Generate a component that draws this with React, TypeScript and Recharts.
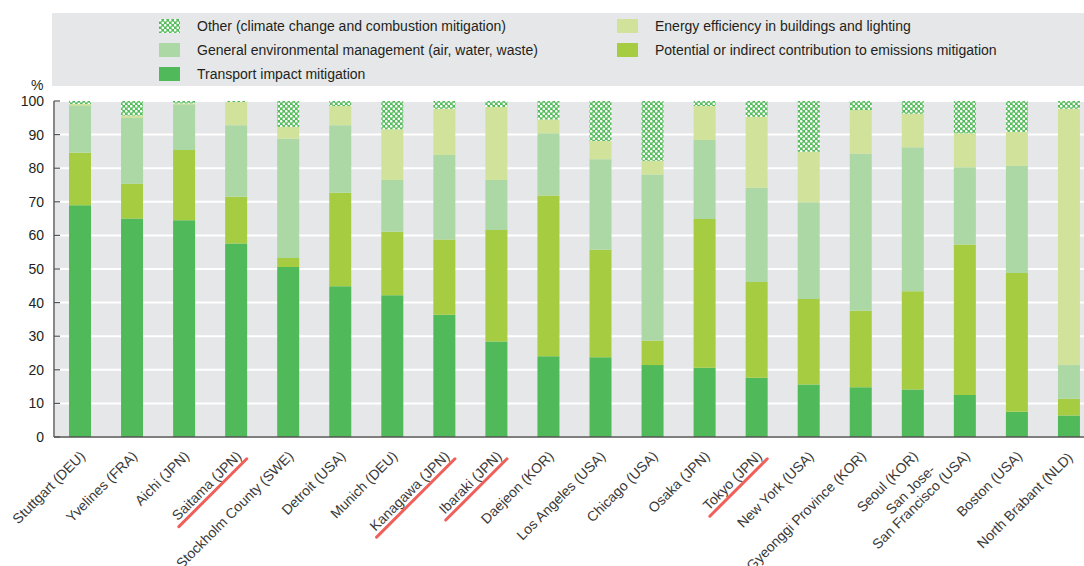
import React from "react";
import { BarChart, Bar, XAxis, YAxis, CartesianGrid } from "recharts";

const categories = [
  "Stuttgart (DEU)",
  "Yvelines (FRA)",
  "Aichi (JPN)",
  "Saitama (JPN)",
  "Stockholm County (SWE)",
  "Detroit (USA)",
  "Munich (DEU)",
  "Kanagawa (JPN)",
  "Ibaraki (JPN)",
  "Daejeon (KOR)",
  "Los Angeles (USA)",
  "Chicago (USA)",
  "Osaka (JPN)",
  "Tokyo (JPN)",
  "New York (USA)",
  "Gyeonggi Province (KOR)",
  "Seoul (KOR)",
  "San Jose-\nSan Francisco (USA)",
  "Boston (USA)",
  "North Brabant  (NLD)",
];

const highlighted = ["Saitama (JPN)", "Kanagawa (JPN)", "Ibaraki (JPN)", "Tokyo (JPN)"];

const transport = [69, 65, 64.5, 57.6, 50.6, 44.9, 42.2, 36.4, 28.4, 24.0, 23.7, 21.4, 20.6, 17.6, 15.6, 14.8, 14.1, 12.5, 7.5, 6.4];
const potential = [15.6, 10.4, 20.9, 13.9, 2.7, 27.8, 18.9, 22.4, 33.2, 47.9, 32.0, 7.3, 44.3, 28.5, 25.5, 22.8, 29.3, 44.8, 41.3, 5.0];
const general = [14.1, 19.6, 13.6, 21.3, 35.5, 20.1, 15.4, 25.1, 14.9, 18.5, 27.0, 49.4, 23.5, 28.1, 28.8, 46.7, 42.8, 23.0, 31.9, 10.0];
const energy = [0.4, 0.7, 0.3, 6.9, 3.5, 5.7, 15.1, 13.8, 21.7, 4.1, 5.4, 4.1, 10.1, 21.1, 15.0, 13.0, 10.0, 10.1, 10.1, 76.3];
const other = [0.9, 4.3, 0.7, 0.3, 7.7, 1.5, 8.4, 2.3, 1.8, 5.5, 11.9, 17.8, 1.5, 4.7, 15.1, 2.7, 3.8, 9.6, 9.2, 2.3];

const yTicks = [0, 10, 20, 30, 40, 50, 60, 70, 80, 90, 100];
const boundaryTicks = categories.map((_, i) => i).concat([categories.length]);

const seriesNames = {
  other: "Other (climate change and combustion mitigation)",
  energy: "Energy efficiency in buildings and lighting",
  general: "General environmental management (air, water, waste)",
  potential: "Potential or indirect contribution to emissions mitigation",
  transport: "Transport impact mitigation",
};

const COLORS = {
  transport: "#50b95a",
  potential: "#a6cd42",
  general: "#acd8a5",
  energy: "#d1e39a",
  otherGreen: "#55bc5c",
};

const data = categories.map((name, i) => ({
  name,
  transport: transport[i],
  potential: potential[i],
  general: general[i],
  energy: energy[i],
  other: other[i],
}));

const FONT = "'Liberation Sans', Arial, sans-serif";
const XFS = 14;

let ctx: CanvasRenderingContext2D | null = null;
function measure(text: string, font: string): number {
  if (!ctx) {
    const c = document.createElement("canvas");
    ctx = c.getContext("2d");
  }
  if (!ctx) return text.length * 7;
  ctx.font = font;
  return ctx.measureText(text).width;
}

const XTick = (props: any) => {
  const { x, y, payload } = props;
  const value = String(payload.value);
  const lines = value.split("\n");
  const font = `${XFS}px ${FONT}`;
  const widths = lines.map((l) => measure(l, font));
  const maxW = Math.max(...widths);
  const lh = 15;
  const n = lines.length;
  const isHi = highlighted.includes(value);
  return (
    <g transform={`translate(${x + 6},${y + 20}) rotate(-45)`}>
      {lines.map((l, i) => (
        <text
          key={i}
          x={-maxW / 2}
          y={(i - (n - 1)) * lh}
          textAnchor="middle"
          fontSize={XFS}
          fontFamily={FONT}
          fill="#3a3a3a"
        >
          {l}
        </text>
      ))}
      {isHi && (
        <line x1={-maxW - 3} x2={2} y1={4.5} y2={4.5} stroke="#f0605a" strokeWidth={3} strokeLinecap="round" />
      )}
    </g>
  );
};

const Swatch = ({ fill }: { fill: string }) => (
  <svg width={21} height={14} style={{ position: "absolute", left: 0, top: 0 }}>
    <rect x={0} y={0} width={21} height={14} fill={fill} />
  </svg>
);

const LegendItem = ({ left, top, fill, label }: { left: number; top: number; fill: string; label: string }) => (
  <div style={{ position: "absolute", left, top, height: 16 }}>
    <Swatch fill={fill} />
    <span
      style={{
        position: "absolute",
        left: 38,
        top: -1,
        whiteSpace: "nowrap",
        fontFamily: FONT,
        fontSize: 14,
        color: "#231f20",
      }}
    >
      {label}
    </span>
  </div>
);

export default function App() {
  return (
    <div
      style={{
        position: "absolute",
        left: 0,
        top: 0,
        width: 1084,
        height: 566,
        overflow: "hidden",
        background: "#ffffff",
      }}
    >
      <svg width={0} height={0} style={{ position: "absolute" }}>
        <defs>
          <pattern id="otherPattern" width={5} height={5} patternUnits="userSpaceOnUse">
            <rect x={0} y={0} width={5} height={5} fill={COLORS.otherGreen} />
            <circle cx={1.25} cy={1.25} r={1.3} fill="#ffffff" />
            <circle cx={3.75} cy={3.75} r={1.3} fill="#ffffff" />
          </pattern>
        </defs>
      </svg>

      <div
        style={{
          position: "absolute",
          left: 52,
          top: 13,
          width: 1040,
          height: 73,
          background: "#e6e7e8",
        }}
      >
        <LegendItem left={107} top={6} fill="url(#otherPattern)" label={seriesNames.other} />
        <LegendItem left={565} top={6} fill={COLORS.energy} label={seriesNames.energy} />
        <LegendItem left={107} top={30} fill={COLORS.general} label={seriesNames.general} />
        <LegendItem left={565} top={30} fill={COLORS.potential} label={seriesNames.potential} />
        <LegendItem left={107} top={54} fill={COLORS.transport} label={seriesNames.transport} />
      </div>

      <div
        style={{
          position: "absolute",
          left: 31,
          top: 77,
          fontFamily: FONT,
          fontSize: 14,
          color: "#231f20",
        }}
      >
        %
      </div>

      <div style={{ position: "absolute", left: 0, top: 0 }}>
        <BarChart
          width={1100}
          height={566}
          data={data}
          margin={{ top: 101, right: 5, bottom: 0, left: 0 }}
          barSize={22}
        >
          <XAxis
            xAxisId={0}
            type="number"
            domain={[0, categories.length]}
            ticks={boundaryTicks}
            allowDataOverflow
            height={0}
            axisLine={false}
            tick={false}
            tickSize={-6}
            tickLine={{ stroke: "#4d4d4d", strokeWidth: 1.2 }}
          />
          <XAxis
            xAxisId={1}
            dataKey="name"
            type="category"
            height={129}
            interval={0}
            tickLine={false}
            tickSize={0}
            tickMargin={0}
            axisLine={{ stroke: "#555555", strokeWidth: 1.6 }}
            tick={<XTick />}
          />
          <YAxis
            yAxisId={0}
            width={54}
            domain={[0, 100]}
            ticks={yTicks}
            interval={0}
            tickSize={-6}
            tickMargin={16}
            axisLine={{ stroke: "#555555", strokeWidth: 1.4 }}
            tickLine={{ stroke: "#555555", strokeWidth: 1.2 }}
            tick={{ fontSize: 14, fontFamily: FONT, fill: "#231f20" }}
          />
          <CartesianGrid
            xAxisId={0}
            yAxisId={0}
            fill="#e6e7e8"
            fillOpacity={1}
            stroke="#ffffff"
            strokeWidth={2}
          />
          <Bar xAxisId={1} yAxisId={0} dataKey="transport" name={seriesNames.transport} stackId="a" fill={COLORS.transport} isAnimationActive={false} />
          <Bar xAxisId={1} yAxisId={0} dataKey="potential" name={seriesNames.potential} stackId="a" fill={COLORS.potential} isAnimationActive={false} />
          <Bar xAxisId={1} yAxisId={0} dataKey="general" name={seriesNames.general} stackId="a" fill={COLORS.general} isAnimationActive={false} />
          <Bar xAxisId={1} yAxisId={0} dataKey="energy" name={seriesNames.energy} stackId="a" fill={COLORS.energy} isAnimationActive={false} />
          <Bar xAxisId={1} yAxisId={0} dataKey="other" name={seriesNames.other} stackId="a" fill="url(#otherPattern)" isAnimationActive={false} />
        </BarChart>
      </div>
    </div>
  );
}
